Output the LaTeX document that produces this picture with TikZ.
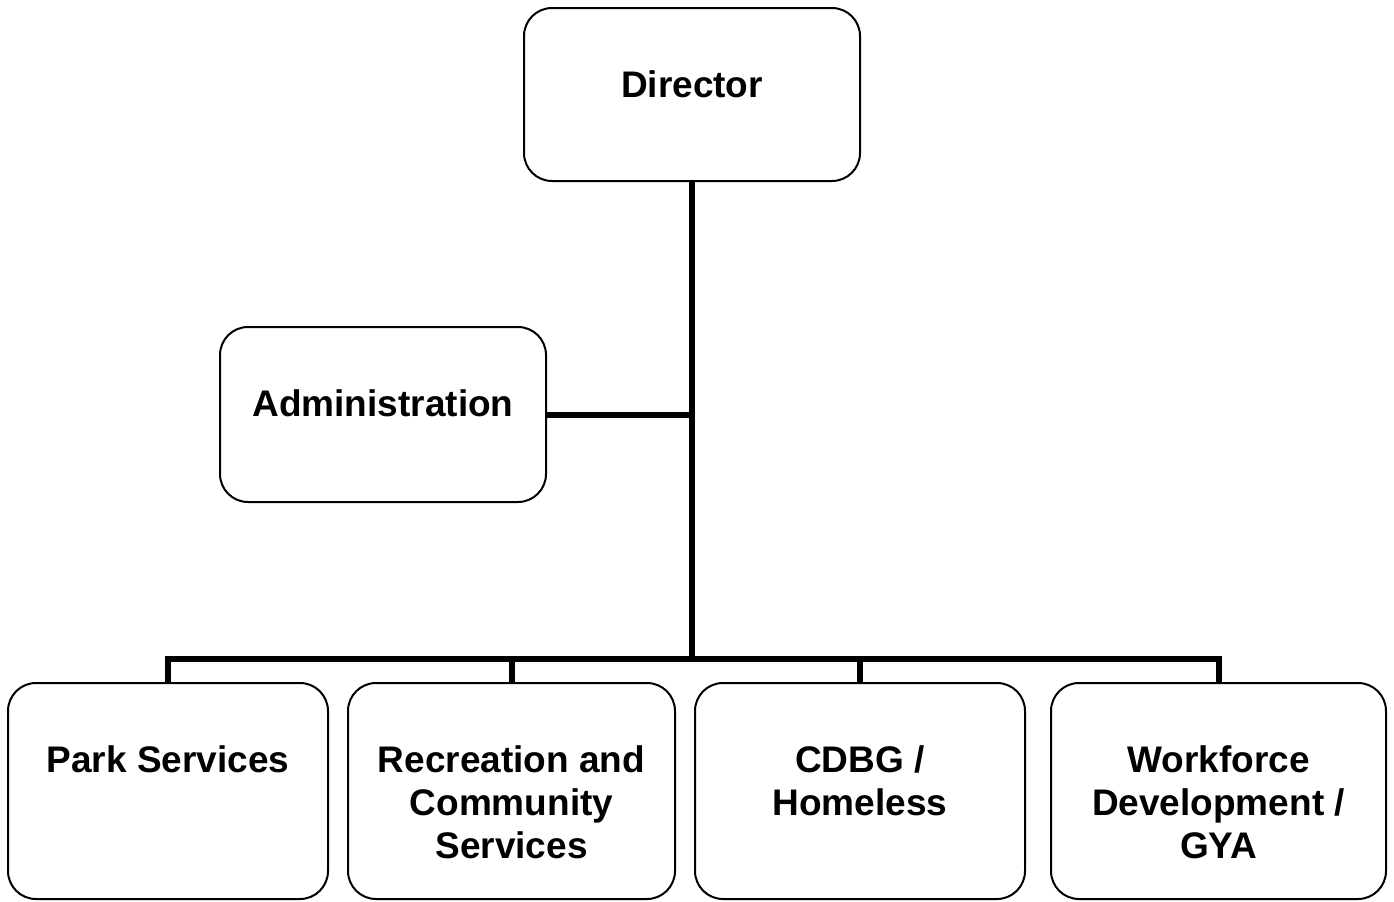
\documentclass[tikz,border=0pt]{standalone}
\usepackage{fontspec}
\setmainfont{Liberation Sans}
\usepackage{tikz}
\usetikzlibrary{positioning}
\tikzstyle{unit} = [rectangle, rounded corners=14pt, draw=black, line width=1pt, fill=white, inner sep=0pt, align=center, font=\bfseries\fontsize{18.5}{21.5}\selectfont, text height=44.5pt]
\tikzstyle{branch} = [unit, minimum height=108pt]
\tikzstyle{link} = [draw, line width=3pt]

\begin{document}
\begin{tikzpicture}[auto]
\useasboundingbox (0,0) rectangle (697pt,-450.5pt);

% units ==================================

% nodes
\node[unit, minimum width=168pt, minimum height=86.5pt, text depth=42pt] (dir) at (346pt,-47.25pt) {Director};
\node[unit, minimum width=163pt, minimum height=87.5pt, text depth=43pt] (adm) at (191.5pt,-207.25pt) {Administration};
\node[branch, minimum width=160pt, text depth=63.5pt] (park) at (84pt,-395.5pt) {Park Services};
\node[branch, minimum width=163.5pt, text height=87.5pt, text depth=20.5pt, right=9pt of park] (rec) {Recreation and\\Community\\Services};
\node[branch, minimum width=165pt, text height=66pt, text depth=42pt, right=9pt of rec] (cdbg) {CDBG /\\Homeless};
\node[branch, minimum width=167.5pt, text height=87.5pt, text depth=20.5pt, right=12pt of cdbg] (wfd) {Workforce\\Development /\\GYA};
\coordinate (bus) at (346pt,-329.5pt);

% edges
\path[link] (dir.south) -- (bus);
\path[link] (adm.east) -- (adm.east -| dir.south);
\path[link] (park.north) |- (bus) -| (wfd.north);
\path[link] (rec.north) -- (rec.north |- bus);
\path[link] (cdbg.north) -- (cdbg.north |- bus);

\end{tikzpicture}
\end{document}
